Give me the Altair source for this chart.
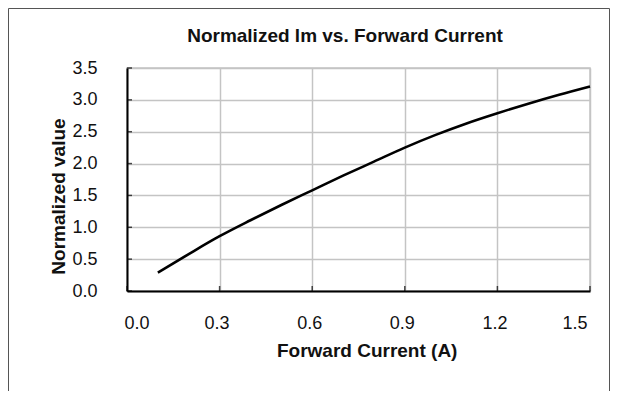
import altair as alt
import pandas as pd

# Data
current = [0.1, 0.2, 0.3, 0.4, 0.5, 0.6, 0.7, 0.8, 0.9, 1.0, 1.1, 1.2, 1.3, 1.4, 1.5]
normalized = [0.29, 0.58, 0.86, 1.11, 1.35, 1.58, 1.81, 2.03, 2.25, 2.45, 2.63, 2.79, 2.94, 3.08, 3.21]
x_ticks = [0.0, 0.3, 0.6, 0.9, 1.2, 1.5]
y_ticks = [0.0, 0.5, 1.0, 1.5, 2.0, 2.5, 3.0, 3.5]

title_text = "Normalized lm vs. Forward Current"
x_title = "Forward Current (A)"
y_title = "Normalized value"

df = pd.DataFrame({"current": current, "value": normalized})
xt = pd.DataFrame({"current": x_ticks})
yt = pd.DataFrame({"value": y_ticks})

FONT = "Liberation Sans"
W, H = 463, 223

xscale = alt.Scale(domain=[0, 1.5], nice=False, zero=False)
yscale = alt.Scale(domain=[0, 3.5], nice=False)

xaxis = alt.Axis(values=x_ticks, format=".1f", title=x_title,
                 labelFont=FONT, labelFontSize=18, labelColor="#111",
                 labelPadding=23, labelOffset=-3, ticks=False,
                 domainColor="black", domainWidth=2,
                 gridColor="#c4c4c4", gridWidth=1.5,
                 titleFont=FONT, titleFontSize=19, titleFontWeight="bold",
                 titleColor="#111", titleX=239.7, titleY=59,
                 titleBaseline="middle", titleAlign="center")
yaxis = alt.Axis(values=y_ticks, format=".1f", title=y_title,
                 labelFont=FONT, labelFontSize=18, labelColor="#111",
                 labelPadding=30, ticks=False,
                 domainColor="black", domainWidth=2,
                 gridColor="#c4c4c4", gridWidth=1.5,
                 titleFont=FONT, titleFontSize=19, titleFontWeight="bold",
                 titleColor="#111", titleAngle=270, titleX=-69, titleY=128,
                 titleBaseline="middle", titleAlign="center")

line = alt.Chart(df).mark_line(color="black", strokeWidth=2.6, interpolate="monotone").encode(
    x=alt.X("current:Q", scale=xscale, axis=xaxis),
    y=alt.Y("value:Q", scale=yscale, axis=yaxis),
)

yticks_layer = alt.Chart(yt).mark_tick(orient="horizontal", color="black", size=5, thickness=1.5).encode(
    y=alt.Y("value:Q", scale=yscale, axis=yaxis),
    x=alt.value(2.5),
)
xticks_layer = alt.Chart(xt).mark_tick(orient="vertical", color="black", size=5, thickness=1.5).encode(
    x=alt.X("current:Q", scale=xscale, axis=xaxis),
    y=alt.value(H - 2.5),
)

frame = alt.Chart(alt.Data(values=[{"a": 1}])).mark_rect(
    fillOpacity=0, stroke="#555555", strokeWidth=1
).encode(
    x=alt.value(-118.5), x2=alt.value(W + 19.5),
    y=alt.value(-59.5), y2=alt.value(H + 120),
)

chart = alt.layer(line, yticks_layer, xticks_layer, frame).properties(
    width=W, height=H,
    autosize=alt.AutoSizeParams(type="none"),
    padding={"left": 119, "top": 60, "right": 20, "bottom": 100},
    title=alt.TitleParams(title_text, font=FONT, fontSize=19, fontWeight="bold",
                          color="#111", anchor="middle", dx=-13.5, offset=-47,
                          baseline="middle"),
    background="white",
).configure_view(stroke="#c4c4c4", strokeWidth=1.5)

chart.save("out.html", embed_options={"renderer": "svg", "actions": False})
